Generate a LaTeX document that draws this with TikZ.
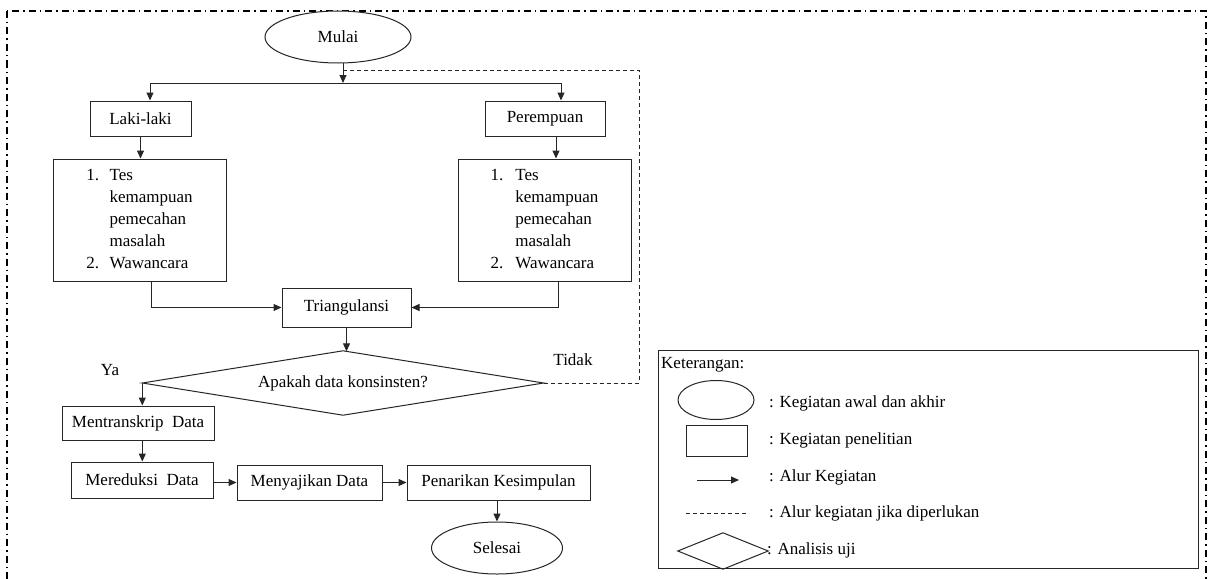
\documentclass[tikz,border=0pt]{standalone}
\usepackage{fontspec}
\setmainfont{Liberation Serif}
\usetikzlibrary{arrows.meta,shapes.geometric}
\begin{document}
\begin{tikzpicture}[x=1pt,y=-1pt,
  every node/.style={font=\fontsize{17}{22}\selectfont, inner sep=0pt},
  ln/.style={draw=black!85, line width=1pt},
  bx/.style={ln, rectangle},
  ov/.style={ln, ellipse},
  dmtxt/.style={rectangle},
  dmline/.style={draw=black!85, line width=1pt, line join=miter},
  arr/.style={draw=black!85, line width=1pt, -{Triangle[length=8pt,width=7pt]}},
  dsh/.style={draw=black!85, line width=0.9pt, dash pattern=on 4pt off 3pt},
  frame/.style={draw=black, line width=1.1pt, dash pattern=on 7pt off 4pt on 1.5pt off 4pt},
  lbl/.style={anchor=west}]
\useasboundingbox (0,0) rectangle (1209,578);
\clip (0,0) rectangle (1209,578);
\fill[white] (0,0) rectangle (1209,578);
% outer frame
\draw[frame] (7,11) rectangle (1206,600);

% main flow
\node[ov, fill=white, minimum width=146, minimum height=52] (mulai) at (338,37) {Mulai};
\coordinate (j) at (343,83);
\coordinate (bl) at (150,83);
\coordinate (br) at (561,83);
\node[bx, minimum width=101, minimum height=35] (laki) at (140.5,118.5) {Laki-laki};
\node[bx, minimum width=120, minimum height=35] (perem) at (545,118.5) {Perempuan};
\node[bx, minimum width=173, minimum height=122] (listL) at (139.5,220)
  {\begin{tabular}{@{}l@{\hspace{10.5pt}}l@{}}1.&Tes\\&kemampuan\\&pemecahan\\&masalah\\2.&Wawancara\end{tabular}};
\node[bx, minimum width=173, minimum height=122] (listR) at (544.5,220)
  {\begin{tabular}{@{}l@{\hspace{12pt}}l@{}}1.&Tes\\&kemampuan\\&pemecahan\\&masalah\\2.&Wawancara\end{tabular}};
\node[bx, minimum width=129, minimum height=39] (tri) at (346.5,307.5) {Triangulansi};
\node[dmtxt, minimum width=401, minimum height=64] (dia) at (343,383) {Apakah data konsinsten?};
\draw[dmline] (dia.north) -- (dia.east) -- (dia.south) -- (dia.west) -- cycle;
\node (ya) at (110,370) {Ya};
\node (tidak) at (573,360) {Tidak};
\node[bx, minimum width=152, minimum height=34] (mentr) at (138,423) {Mentranskrip\ \ Data};
\node[bx, minimum width=142, minimum height=36] (mered) at (142,480) {Mereduksi\ \ Data};
\node[bx, minimum width=145, minimum height=35] (meny) at (309.5,482.5) {Menyajikan Data};
\node[bx, minimum width=183, minimum height=35] (pen) at (498.5,482.5) {Penarikan Kesimpulan};
\node[ov, minimum width=131, minimum height=52] (sel) at (497,548) {Selesai};

\coordinate (pa) at (556,0);
\coordinate (lb) at (151,0);
\coordinate (rb) at (558,0);
\coordinate (dc) at (639,70);

\draw[arr] (mulai.south -| j) -- (j);
\draw[ln] (bl) -- (br);
\draw[arr] (bl) -- (laki.north -| bl);
\draw[arr] (br) -- (perem.north -| br);
\draw[arr] (laki.south) -- (listL.north -| laki.south);
\draw[arr] (perem.south -| pa) -- (listR.north -| pa);
\draw[arr] (listL.south -| lb) |- (tri.west);
\draw[arr] (listR.south -| rb) |- (tri.east);
\draw[arr] (tri.south) -- ([yshift=-0.5pt]tri.south |- dia.north);
\draw[arr] (dia.west) -- (dia.west |- mentr.north);
\draw[arr] (mentr.south -| dia.west) -- (mered.north -| dia.west);
\draw[arr] (meny.west -| mered.east) -- (meny.west);
\draw[arr] (meny.east) -- (pen.west);
\draw[arr] (pen.south -| sel.north) -- (sel.north);
\draw[dsh] (dia.east) -| (dc) -- (dc -| j);

% legend
\node[bx, minimum width=540, minimum height=218] (legend) at (928,459) {};
\node[lbl] (ket) at (661,365) {Keterangan:};
\node[ov, minimum width=76, minimum height=39] (lgov) at (716,400) {};
\node[lbl] (t1) at (769,403) {: Kegiatan awal dan akhir};
\node[bx, minimum width=61, minimum height=31] (lgbx) at (716.5,440.5) {};
\node[lbl] (t2) at (769,440) {: Kegiatan penelitian};
\coordinate (la1) at (697,480);
\coordinate (la2) at (739,480);
\draw[arr] (la1) -- (la2);
\node[lbl] (t3) at (769,477) {: Alur Kegiatan};
\coordinate (ld1) at (686,513);
\coordinate (ld2) at (749,513);
\draw[dsh] (ld1) -- (ld2);
\node[lbl] (t4) at (769,513) {: Alur kegiatan jika diperlukan};
\node[dmtxt, minimum width=90, minimum height=36] (lgdm) at (723,551) {};
\draw[dmline] (lgdm.north) -- (lgdm.east) -- (lgdm.south) -- (lgdm.west) -- cycle;
\node[lbl] (t5) at (767,550) {: Analisis uji};
\end{tikzpicture}
\end{document}
